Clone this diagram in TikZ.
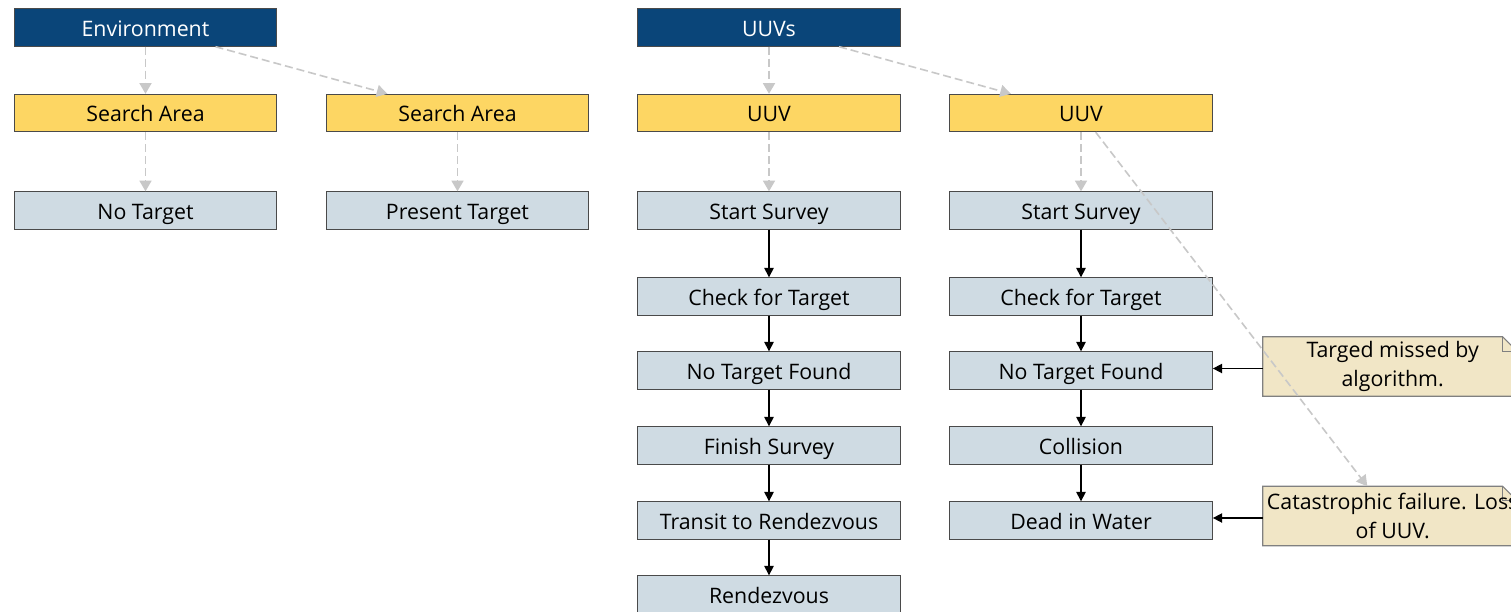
\documentclass[tikz,border=0pt]{standalone}
\usepackage{fontspec}
\setmainfont{Open Sans}
\usetikzlibrary{arrows.meta}
\definecolor{darkblue}{HTML}{0A4579}
\definecolor{yel}{HTML}{FDD663}
\definecolor{gblue}{HTML}{CFDBE3}
\definecolor{notefill}{HTML}{F1E6C6}
\definecolor{dashgray}{HTML}{C8C8C8}
\definecolor{bord}{HTML}{4A4A4A}
\tikzset{
  box/.style={draw=bord, line width=0.8pt, minimum width=197pt, minimum height=28pt, inner sep=0pt, text height=12.9pt, text depth=0pt, font=\fontsize{16}{19}\selectfont},
  topbox/.style={box, fill=darkblue, text=white},
  midbox/.style={box, fill=yel},
  stepbox/.style={box, fill=gblue},
  notebox/.style={minimum width=190.5pt, minimum height=44.25pt, inner sep=0pt, align=center, font=\fontsize{16}{22}\selectfont},
  notepath/.style={draw=gray, fill=notefill, line width=0.8pt},
  dasharrow/.style={draw=dashgray, line width=1.2pt, dash pattern=on 6pt off 3pt, -{Triangle[length=8pt,width=9pt]}},
  flowarrow/.style={draw=black, line width=1.1pt, -{Triangle[length=7pt,width=7pt]}},
}
\begin{document}
\begin{tikzpicture}[x=0.75pt, y=-0.75pt]
\useasboundingbox (0,0) rectangle (1511,611);
\fill[white] (0,0) rectangle (1511,611);
% top row
\node[topbox] (env) at (145.5,27.5) {Environment};
\node[topbox] (uuvs) at (769,27.5) {UUVs};
% second row
\node[midbox] (sa1) at (145.5,113) {Search Area};
\node[midbox] (sa2) at (457.5,113) {Search Area};
\node[midbox] (uuv1) at (769,113) {UUV};
\node[midbox] (uuv2) at (1081,113) {UUV};
% third row
\node[stepbox] (nt) at (145.5,210.5) {No Target};
\node[stepbox] (pt) at (457.5,210.5) {Present Target};
\node[stepbox] (ss1) at (769,210.5) {Start Survey};
\node[stepbox] (ss2) at (1081,210.5) {Start Survey};
\node[stepbox] (ct1) at (769,296.5) {Check for Target};
\node[stepbox] (ct2) at (1081,296.5) {Check for Target};
\node[stepbox] (nf1) at (769,370.5) {No Target Found};
\node[stepbox] (nf2) at (1081,370.5) {No Target Found};
\node[stepbox] (fs1) at (769,445.5) {Finish Survey};
\node[stepbox] (col) at (1081,445.5) {Collision};
\node[stepbox] (tr1) at (769,520.5) {Transit to Rendezvous};
\node[stepbox] (dw) at (1081,520.5) {Dead in Water};
\node[stepbox] (rv) at (769,594.5) {Rendezvous};
% notes
\node[notebox] (n1) at (1390,366.5) {};
\node[notebox] (n2) at (1390,516) {};
\foreach \n in {n1, n2}{
  \draw[notepath] (\n.south west) -- (\n.north west) -- ([xshift=-11pt]\n.north east) -- ([yshift=-11pt]\n.north east) -- (\n.south east) -- cycle;
  \draw[draw=gray, line width=0.8pt] ([xshift=-11pt]\n.north east) -- ([xshift=-11pt,yshift=-11pt]\n.north east) -- ([yshift=-11pt]\n.north east);
}
\node[notebox] (t1) at ([xshift=2pt]n1) {Targed missed by\\algorithm.};
\node[notebox] (t2) at ([xshift=2pt]n2) {Catastrophic failure. Loss\\of UUV.};
% dashed connectors
\draw[dasharrow] (env) -- (sa1);
\draw[dasharrow] (env) -- (sa2);
\draw[dasharrow] (sa1) -- (nt);
\draw[dasharrow] (sa2) -- (pt);
\draw[dasharrow] (uuvs) -- (uuv1);
\draw[dasharrow] (uuvs) -- (uuv2);
\draw[dasharrow] (uuv1) -- (ss1);
\draw[dasharrow] (uuv2) -- (ss2);
\draw[dasharrow] (uuv2) -- (n2);
% flow connectors
\draw[flowarrow] (ss1) -- (ct1);
\draw[flowarrow] (ct1) -- (nf1);
\draw[flowarrow] (nf1) -- (fs1);
\draw[flowarrow] (fs1) -- (tr1);
\draw[flowarrow] (tr1) -- (rv);
\draw[flowarrow] (ss2) -- (ct2);
\draw[flowarrow] (ct2) -- (nf2);
\draw[flowarrow] (nf2) -- (col);
\draw[flowarrow] (col) -- (dw);
\draw[flowarrow] ([yshift=-1.5pt]n1.west) -- ([yshift=-1.5pt]n1.west -| nf2.east);
\draw[flowarrow] ([yshift=-1.5pt]n2.west) -- ([yshift=-1.5pt]n2.west -| dw.east);
\end{tikzpicture}
\end{document}
